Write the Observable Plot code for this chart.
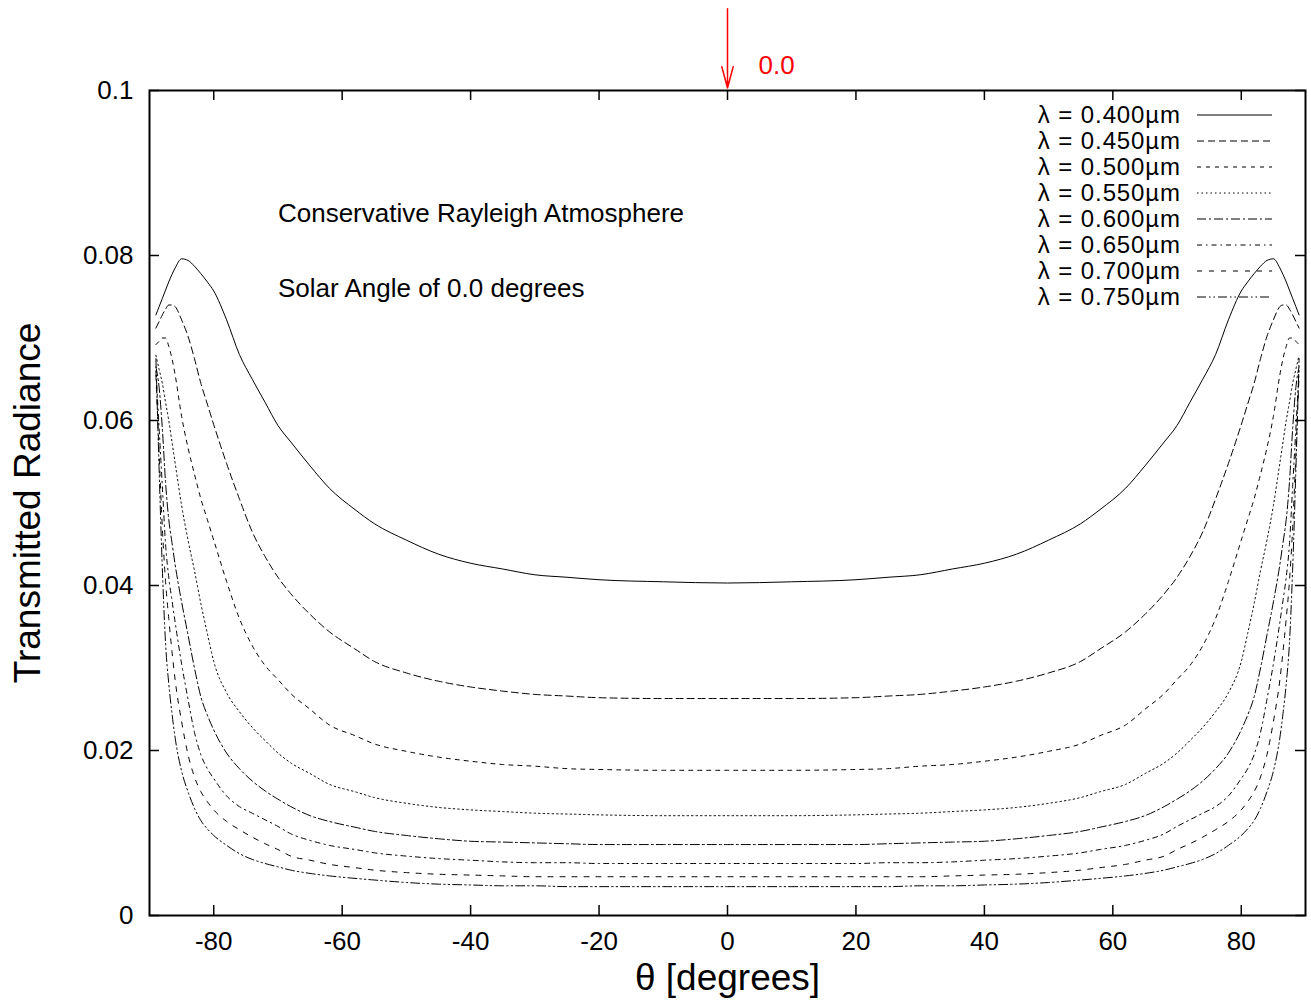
<!DOCTYPE html>
<html><head><meta charset="utf-8">
<script src="https://cdn.jsdelivr.net/npm/d3@7"></script>
<script src="https://cdn.jsdelivr.net/npm/@observablehq/plot@0.6"></script>
<style>
body{margin:0;background:#fff;}
#chart{position:relative;width:1311px;height:1005px;}
</style></head><body><div id="chart"></div>
<script>
const thetas = [-89,-88.5,-88,-87.5,-87,-86.5,-86,-85,-84,-83,-82,-81,-80,-78,-76,-74,-72,-70,-68,-65,-62,-58,-55,-50,-45,-40,-35,-30,-25,-20,-10,0,10,20,25,30,35,40,45,50,55,58,62,65,68,70,72,74,76,78,80,81,82,83,84,85,86,86.5,87,87.5,88,88.5,89];

const wavelengths = ["0.400","0.450","0.500","0.550","0.600","0.650","0.700","0.750"];

const rad400 = [0.0728,0.0738,0.0748,0.0758,0.0768,0.0777,0.0785,0.0796,0.0794,0.0787,0.0778,0.0768,0.0757,0.0722,0.0680,0.0650,0.0622,0.0594,0.0574,0.0545,0.0518,0.0492,0.0475,0.0455,0.0438,0.0427,0.0420,0.0413,0.0410,0.0407,0.04045,0.0403,0.04045,0.0407,0.0410,0.0413,0.0420,0.0427,0.0438,0.0455,0.0475,0.0492,0.0518,0.0545,0.0574,0.0594,0.0622,0.0650,0.0680,0.0722,0.0757,0.0768,0.0778,0.0787,0.0794,0.0796,0.0785,0.0777,0.0768,0.0758,0.0748,0.0738,0.0728];
const rad450 = [0.0712,0.0720,0.0728,0.0735,0.0740,0.0740,0.0738,0.0722,0.0702,0.0675,0.0645,0.0620,0.0595,0.0548,0.0505,0.0465,0.0435,0.0410,0.0390,0.0365,0.0344,0.0323,0.0308,0.0294,0.0284,0.0277,0.0272,0.0268,0.0266,0.0264,0.0263,0.0263,0.0263,0.0264,0.0266,0.0268,0.0272,0.0277,0.0284,0.0294,0.0308,0.0323,0.0344,0.0365,0.0390,0.0410,0.0435,0.0465,0.0505,0.0548,0.0595,0.0620,0.0645,0.0675,0.0702,0.0722,0.0738,0.0740,0.0740,0.0735,0.0728,0.0720,0.0712];
const rad500 = [0.0692,0.0696,0.0700,0.0700,0.0690,0.0675,0.0655,0.0605,0.0567,0.0535,0.0505,0.0480,0.0455,0.0405,0.0360,0.0327,0.0303,0.0286,0.0269,0.0250,0.0231,0.0218,0.0208,0.0199,0.0192,0.0187,0.0183,0.0181,0.0178,0.0177,0.0176,0.0176,0.0176,0.0177,0.0178,0.0181,0.0183,0.0187,0.0192,0.0199,0.0208,0.0218,0.0231,0.0250,0.0269,0.0286,0.0303,0.0327,0.0360,0.0405,0.0455,0.0480,0.0505,0.0535,0.0567,0.0605,0.0655,0.0675,0.0690,0.0700,0.0700,0.0696,0.0692];
const rad550 = [0.0679,0.0662,0.0645,0.0622,0.0600,0.0574,0.0548,0.0497,0.0455,0.0418,0.0378,0.0342,0.0308,0.0270,0.0247,0.0228,0.0212,0.0197,0.0185,0.0172,0.0159,0.0150,0.0143,0.0136,0.0131,0.0128,0.0126,0.0124,0.0123,0.0122,0.0121,0.0121,0.0121,0.0122,0.0123,0.0124,0.0126,0.0128,0.0131,0.0136,0.0143,0.0150,0.0159,0.0172,0.0185,0.0197,0.0212,0.0228,0.0247,0.0270,0.0308,0.0342,0.0378,0.0418,0.0455,0.0497,0.0548,0.0574,0.0600,0.0622,0.0645,0.0662,0.0679];
const rad600 = [0.0665,0.0640,0.0590,0.0525,0.0480,0.0452,0.0425,0.0380,0.0340,0.0300,0.0265,0.0243,0.0225,0.0197,0.0178,0.0163,0.0151,0.0141,0.0132,0.0121,0.0114,0.0107,0.0102,0.0097,0.0093,0.0090,0.0089,0.0088,0.0087,0.0086,0.0086,0.0086,0.0086,0.0086,0.0087,0.0088,0.0089,0.0090,0.0093,0.0097,0.0102,0.0107,0.0114,0.0121,0.0132,0.0141,0.0151,0.0163,0.0178,0.0197,0.0225,0.0243,0.0265,0.0300,0.0340,0.0380,0.0425,0.0452,0.0480,0.0525,0.0590,0.0640,0.0665];
const rad650 = [0.0660,0.0590,0.0520,0.0450,0.0410,0.0382,0.0355,0.0305,0.0262,0.0222,0.0195,0.0178,0.0166,0.0145,0.0132,0.0124,0.0116,0.0108,0.0099,0.0091,0.0085,0.0080,0.0076,0.0072,0.0069,0.0067,0.0065,0.0064,0.0064,0.0063,0.0063,0.0063,0.0063,0.0063,0.0064,0.0064,0.0065,0.0067,0.0069,0.0072,0.0076,0.0080,0.0085,0.0091,0.0099,0.0108,0.0116,0.0124,0.0132,0.0145,0.0166,0.0178,0.0195,0.0222,0.0262,0.0305,0.0355,0.0382,0.0410,0.0450,0.0520,0.0590,0.0660];
const rad700 = [0.0655,0.0560,0.0470,0.0405,0.0360,0.0320,0.0285,0.0235,0.0195,0.0168,0.0150,0.0138,0.0128,0.0114,0.0104,0.0095,0.0087,0.0080,0.0072,0.0067,0.0062,0.0058,0.0055,0.0052,0.0050,0.0049,0.0048,0.0047,0.0047,0.0047,0.0047,0.0047,0.0047,0.0047,0.0047,0.0047,0.0048,0.0049,0.0050,0.0052,0.0055,0.0058,0.0062,0.0067,0.0072,0.0080,0.0087,0.0095,0.0104,0.0114,0.0128,0.0138,0.0150,0.0168,0.0195,0.0235,0.0285,0.0320,0.0360,0.0405,0.0470,0.0560,0.0655];
const rad750 = [0.0675,0.0540,0.0420,0.0330,0.0281,0.0245,0.0215,0.0175,0.0150,0.0130,0.0115,0.0105,0.0097,0.0085,0.0075,0.0068,0.0063,0.0059,0.0055,0.0051,0.0048,0.0045,0.0043,0.0040,0.0038,0.0037,0.0036,0.0036,0.0035,0.0035,0.0035,0.0035,0.0035,0.0035,0.0035,0.0036,0.0036,0.0037,0.0038,0.0040,0.0043,0.0045,0.0048,0.0051,0.0055,0.0059,0.0063,0.0068,0.0075,0.0085,0.0097,0.0105,0.0115,0.0130,0.0150,0.0175,0.0215,0.0245,0.0281,0.0330,0.0420,0.0540,0.0675];

const xTicks = [-80,-60,-40,-20,0,20,40,60,80];
const yTicks = [0,0.02,0.04,0.06,0.08,0.1];
const solarAngle = 0.0;
const notes = ["Conservative Rayleigh Atmosphere", "Solar Angle of 0.0 degrees"];
const xLabel = "θ [degrees]";
const yLabel = "Transmitted Radiance";

const series = [rad400,rad450,rad500,rad550,rad600,rad650,rad700,rad750];
const dashes = [null,"7,4","4,5","1.5,3","9,3,2,3","5,4,1.5,4","5,7","9,3,1.5,3,1.5,3"];

const W = 1311, H = 1005, mL = 149, mR = 6, mT = 90, mB = 90;
const fw = W - mL - mR, fh = H - mT - mB;
const font = "'Liberation Sans', Arial, Helvetica, sans-serif";

const marks = [];
series.forEach((vals, i) => {
  const rows = thetas.map((t, j) => ({theta: t, value: vals[j]}));
  marks.push(Plot.line(rows, {x: "theta", y: "value", stroke: "black", strokeWidth: 1, strokeDasharray: dashes[i], curve: "monotone-x"}));
});

marks.push(
  Plot.frame({stroke: "black", strokeWidth: 2}),
  Plot.tickX(xTicks, {x: d => d, insetTop: fh - 10, stroke: "black", strokeWidth: 1.5}),
  Plot.tickX(xTicks, {x: d => d, insetBottom: fh - 10, stroke: "black", strokeWidth: 1.5}),
  Plot.tickY(yTicks, {y: d => d, insetRight: fw - 10, stroke: "black", strokeWidth: 1.5}),
  Plot.tickY(yTicks, {y: d => d, insetLeft: fw - 10, stroke: "black", strokeWidth: 1.5}),
  Plot.axisX(xTicks, {tickSize: 0, tickPadding: 16, fontSize: 26, tickFormat: d => String(d), label: null}),
  Plot.axisY(yTicks, {tickSize: 0, tickPadding: 16, fontSize: 26, tickFormat: d => String(d), label: null}),
  Plot.text([yLabel], {frameAnchor: "left", dx: -121, rotate: -90, textAnchor: "middle", fontSize: 37}),
  Plot.text([xLabel], {frameAnchor: "bottom", dy: 74, textAnchor: "middle", fontSize: 37}),
  Plot.text([notes[0]], {x: -70, y: 0.0851, textAnchor: "start", fontSize: 26}),
  Plot.text([notes[1]], {x: -70, y: 0.0760, textAnchor: "start", fontSize: 26}),
  Plot.arrow([solarAngle], {x1: d => d, x2: d => d, y1: 0.1099, y2: 0.1003, stroke: "red", strokeWidth: 1.5, headLength: 22, headAngle: 30}),
  Plot.text([solarAngle], {x: d => d, y: 0.1, dx: 31, dy: -25, text: d => d.toFixed(1), fill: "red", textAnchor: "start", fontSize: 26})
);

const chart = Plot.plot({
  width: W, height: H,
  marginLeft: mL, marginRight: mR, marginTop: mT, marginBottom: mB,
  x: {domain: [-90, 90], label: null},
  y: {domain: [0, 0.1], label: null},
  style: {fontFamily: font, background: "white", color: "black", overflow: "visible"},
  marks
});
document.getElementById("chart").appendChild(chart);

// legend (inside the frame, top-right)
const svg = d3.select(chart);
const right = W - mR;
const lg = svg.append("g").attr("font-family", font).attr("font-size", 24).attr("letter-spacing", "0.9px");
wavelengths.forEach((w, i) => {
  const y = mT + 25 + 26 * i;
  lg.append("text").attr("x", right - 124).attr("y", y).attr("dy", "0.35em")
    .attr("text-anchor", "end").attr("fill", "black").text(`λ = ${w}µm`);
  lg.append("line").attr("x1", right - 108).attr("x2", right - 33).attr("y1", y).attr("y2", y)
    .attr("stroke", "black").attr("stroke-width", 1)
    .attr("stroke-dasharray", dashes[i]);
});
</script></body></html>
